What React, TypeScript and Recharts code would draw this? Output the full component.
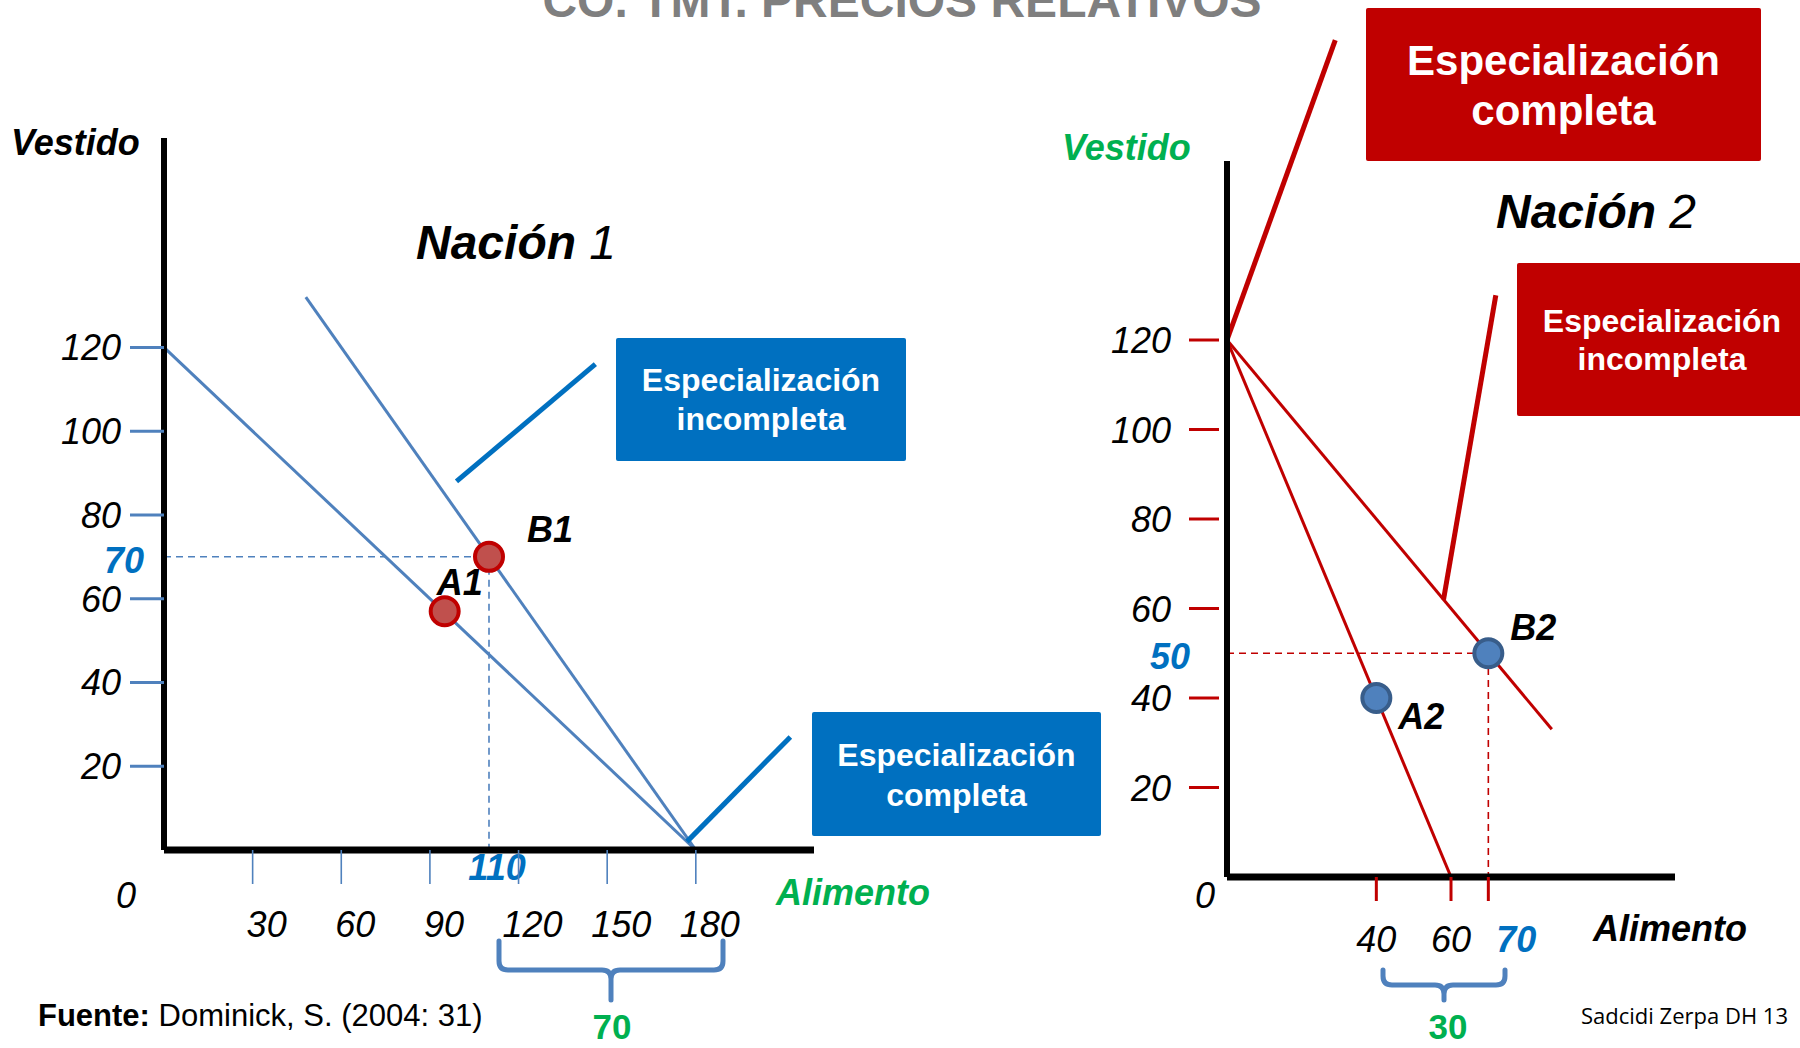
import React from "react";
import { ComposedChart, Line, Scatter, XAxis, YAxis, ReferenceLine } from "recharts";

const FONT = "'Liberation Sans', Arial, Helvetica, sans-serif";
const BLUE_LINE = "#4f81bd";
const BLUE_TEXT = "#0070c0";
const RED = "#c00000";
const GREEN = "#00b050";

// Nación 1 (Alimento en x, Vestido en y)
const n1Frontier = [{ x: 0, y: 120 }, { x: 180, y: 0 }];
const n1Trade = [{ x: 48, y: 132 }, { x: 180, y: 0 }];
const n1Points = [
  { name: "A1", x: 95, y: 57 },
  { name: "B1", x: 110, y: 70 },
];
const n1XTicks = [0, 30, 60, 90, 110, 120, 150, 180];
const n1YTicks = [20, 40, 60, 70, 80, 100, 120];
const n1Pointers = [
  [{ x: 99, y: 88 }, { x: 146, y: 116 }],
  [{ x: 177, y: 2 }, { x: 212, y: 27 }],
];

// Nación 2
const n2Frontier = [{ x: 0, y: 120 }, { x: 60, y: 0 }];
const n2Trade = [{ x: 0, y: 120 }, { x: 87, y: 33 }];
const n2Points = [
  { name: "A2", x: 40, y: 40 },
  { name: "B2", x: 70, y: 50 },
];
const n2XTicks = [0, 40, 60, 70];
const n2YTicks = [20, 40, 50, 60, 80, 100, 120];
const n2Pointers = [
  [{ x: 0, y: 120 }, { x: 29, y: 187 }],
  [{ x: 58, y: 62 }, { x: 72, y: 130 }],
];

const pointLabelOffset: Record<string, { dx: number; dy: number }> = {
  A1: { dx: -8, dy: -16 },
  B1: { dx: 38, dy: -15 },
  A2: { dx: 22, dy: 31 },
  B2: { dx: 22, dy: -13 },
};

type Pt = { x: number; y: number };

// dashed guide from the axes to the consumption point
const guide = (p: Pt) => [{ x: 0, y: p.y }, { x: p.x, y: p.y }, { x: p.x, y: 0 }];

const tickText = { fontFamily: FONT, fontSize: 36, fontStyle: "italic" as const };

type TickCfg = {
  color: string;
  width: number;
  gap: number;
  len: number;
  dx: number;
  dy: number;
  hi: number;
  hiDx: number;
  hiDy: number;
  hiLine: boolean;
  zero?: { dx: number; dy: number };
};

function xTick(cfg: TickCfg) {
  return (p: any) => {
    const { x, y } = p;
    const v = p.payload.value;
    if (v === 0) {
      if (!cfg.zero) return <g />;
      return (
        <text x={x + cfg.zero.dx} y={y + cfg.zero.dy} textAnchor="middle" {...tickText} fill="#000">
          0
        </text>
      );
    }
    const hi = v === cfg.hi;
    return (
      <g>
        {(!hi || cfg.hiLine) && (
          <line x1={x} x2={x} y1={y + cfg.gap} y2={y + cfg.gap + cfg.len} stroke={cfg.color} strokeWidth={cfg.width} />
        )}
        <text
          x={x + (hi ? cfg.hiDx : cfg.dx)}
          y={y + (hi ? cfg.hiDy : cfg.dy)}
          textAnchor="middle"
          {...tickText}
          fontWeight={hi ? "bold" : "normal"}
          fill={hi ? BLUE_TEXT : "#000"}
        >
          {v}
        </text>
      </g>
    );
  };
}

function yTick(cfg: TickCfg) {
  return (p: any) => {
    const { x, y } = p;
    const v = p.payload.value;
    const hi = v === cfg.hi;
    return (
      <g>
        {(!hi || cfg.hiLine) && (
          <line x1={x - cfg.gap - cfg.len} x2={x - cfg.gap} y1={y} y2={y} stroke={cfg.color} strokeWidth={cfg.width} />
        )}
        <text
          x={x + (hi ? cfg.hiDx : cfg.dx)}
          y={y + (hi ? cfg.hiDy : cfg.dy)}
          textAnchor="end"
          {...tickText}
          fontWeight={hi ? "bold" : "normal"}
          fill={hi ? BLUE_TEXT : "#000"}
        >
          {v}
        </text>
      </g>
    );
  };
}

function dotShape(fill: string, stroke: string) {
  return (p: any) => {
    const { cx, cy, payload } = p;
    const off = pointLabelOffset[payload.name];
    return (
      <g>
        <circle cx={cx} cy={cy} r={14} fill={fill} stroke={stroke} strokeWidth={4} />
        <text x={cx + off.dx} y={cy + off.dy} fontFamily={FONT} fontSize={36} fontWeight="bold" fontStyle="italic" fill="#000">
          {payload.name}
        </text>
      </g>
    );
  };
}

type PanelProps = {
  left: number;
  margin: { top: number; right: number; bottom: number; left: number };
  xDomain: [number, number];
  yDomain: [number, number];
  frontier: Pt[];
  trade: Pt[];
  points: (Pt & { name: string })[];
  pointers: Pt[][];
  xTicks: number[];
  yTicks: number[];
  xTickFn: (p: any) => React.ReactElement;
  yTickFn: (p: any) => React.ReactElement;
  lineColor: string;
  pointerColor: string;
  dotFill: string;
  dotStroke: string;
};

function Panel(props: PanelProps) {
  const b = props.points[1];
  return (
    <div style={{ position: "absolute", left: props.left, top: 0 }}>
      <ComposedChart width={900} height={1048} margin={props.margin}>
        <XAxis
          type="number"
          dataKey="x"
          domain={props.xDomain}
          allowDataOverflow
          ticks={props.xTicks}
          interval={0}
          height={60}
          tickLine={false}
          tickSize={0}
          tickMargin={0}
          axisLine={{ stroke: "#000", strokeWidth: 7 }}
          tick={props.xTickFn}
        />
        <YAxis
          type="number"
          dataKey="y"
          domain={props.yDomain}
          allowDataOverflow
          ticks={props.yTicks}
          interval={0}
          width={60}
          tickLine={false}
          tickSize={0}
          tickMargin={0}
          axisLine={{ stroke: "#000", strokeWidth: 6 }}
          tick={props.yTickFn}
        />
        <Line
          data={guide(b)}
          dataKey="y"
          type="linear"
          stroke={props.lineColor}
          strokeWidth={1.6}
          strokeDasharray="7 5"
          dot={false}
          activeDot={false}
          isAnimationActive={false}
        />
        <Line data={props.frontier} dataKey="y" type="linear" stroke={props.lineColor} strokeWidth={3} dot={false} activeDot={false} isAnimationActive={false} />
        <Line data={props.trade} dataKey="y" type="linear" stroke={props.lineColor} strokeWidth={3} dot={false} activeDot={false} isAnimationActive={false} />
        {props.pointers.map((seg, i) => (
          <ReferenceLine key={i} segment={seg} stroke={props.pointerColor} strokeWidth={5} ifOverflow="visible" />
        ))}
        <Scatter data={props.points} dataKey="y" shape={dotShape(props.dotFill, props.dotStroke)} isAnimationActive={false} />
      </ComposedChart>
    </div>
  );
}

function bracePath(x1: number, x2: number, yTop: number, yH: number, yTip: number) {
  const r = 9;
  const xm = (x1 + x2) / 2;
  return (
    `M${x1},${yTop} L${x1},${yH - r} Q${x1},${yH} ${x1 + r},${yH} L${xm - r},${yH} Q${xm},${yH} ${xm},${yH + r} L${xm},${yTip} ` +
    `M${xm},${yH + r} Q${xm},${yH} ${xm + r},${yH} L${x2 - r},${yH} Q${x2},${yH} ${x2},${yH - r} L${x2},${yTop}`
  );
}

function Box({ x, y, w, h, color, lines, size, lineGap, first }: any) {
  return (
    <g>
      <rect x={x} y={y} width={w} height={h} fill={color} rx={2} />
      {lines.map((t: string, i: number) => (
        <text key={i} x={x + w / 2} y={first + i * lineGap} textAnchor="middle" fontSize={size} fontWeight="bold" fill="#fff">
          {t}
        </text>
      ))}
    </g>
  );
}

function Overlay() {
  return (
    <svg width={1800} height={1048} style={{ position: "absolute", left: 0, top: 0, pointerEvents: "none" }} fontFamily={FONT}>
      <text x={902} y={17} textAnchor="middle" fontSize={48} fontWeight="bold" fill="#7f7f7f">
        CO. TMT. PRECIOS RELATIVOS
      </text>

      {/* Nación 1 */}
      <text x={11} y={155} fontSize={36} fontWeight="bold" fontStyle="italic" fill="#000">Vestido</text>
      <text x={416} y={259} fontSize={48} fontStyle="italic" fill="#000">
        <tspan fontWeight="bold">Nación</tspan>
        <tspan> 1</tspan>
      </text>
      <text x={776} y={905} fontSize={36} fontWeight="bold" fontStyle="italic" fill={GREEN}>Alimento</text>
      <Box x={616} y={338} w={290} h={123} color={BLUE_TEXT} lines={["Especialización", "incompleta"]} size={32} lineGap={39} first={391} />
      <Box x={812} y={712} w={289} h={124} color={BLUE_TEXT} lines={["Especialización", "completa"]} size={32} lineGap={40} first={766} />
      <path d={bracePath(499, 723, 941, 970, 1000)} fill="none" stroke={BLUE_LINE} strokeWidth={5} strokeLinecap="round" />
      <text x={612} y={1039} textAnchor="middle" fontSize={35} fontWeight="bold" fill={GREEN}>70</text>
      <text x={38} y={1026} fontSize={31} fill="#000">
        <tspan fontWeight="bold">Fuente:</tspan>
        <tspan> Dominick, S. (2004: 31)</tspan>
      </text>

      {/* Nación 2 */}
      <text x={1062} y={160} fontSize={36} fontWeight="bold" fontStyle="italic" fill={GREEN}>Vestido</text>
      <text x={1496} y={228} fontSize={48} fontStyle="italic" fill="#000">
        <tspan fontWeight="bold">Nación</tspan>
        <tspan> 2</tspan>
      </text>
      <text x={1593} y={941} fontSize={36} fontWeight="bold" fontStyle="italic" fill="#000">Alimento</text>
      <Box x={1366} y={8} w={395} h={153} color={RED} lines={["Especialización", "completa"]} size={42} lineGap={50} first={75} />
      <Box x={1517} y={263} w={290} h={153} color={RED} lines={["Especialización", "incompleta"]} size={32} lineGap={38} first={332} />
      <path d={bracePath(1383, 1505, 970, 985, 1000)} fill="none" stroke={BLUE_LINE} strokeWidth={5} strokeLinecap="round" />
      <text x={1448} y={1039} textAnchor="middle" fontSize={35} fontWeight="bold" fill={GREEN}>30</text>
      <text x={1788} y={1024} textAnchor="end" fontFamily="'Open Sans', 'Noto Sans', sans-serif" fontSize={22} fill="#000">
        Sadcidi Zerpa DH 13
      </text>
    </svg>
  );
}

export default function App() {
  const n1B = n1Points[1];
  const n2B = n2Points[1];
  return (
    <div style={{ position: "absolute", left: 0, top: 0, width: 1800, height: 1048, background: "#fff", overflow: "hidden" }}>
      <Panel
        left={0}
        margin={{ top: 138, right: 86, bottom: 138, left: 104 }}
        xDomain={[0, 220]}
        yDomain={[0, 170]}
        frontier={n1Frontier}
        trade={n1Trade}
        points={n1Points}
        pointers={n1Pointers}
        xTicks={n1XTicks}
        yTicks={n1YTicks}
        xTickFn={xTick({ color: BLUE_LINE, width: 1.6, gap: 0, len: 34, dx: 14, dy: 87, hi: n1B.x, hiDx: 8, hiDy: 30, hiLine: false, zero: { dx: -38, dy: 58 } })}
        yTickFn={yTick({ color: BLUE_LINE, width: 3, gap: 0, len: 34, dx: -43, dy: 13, hi: n1B.y, hiDx: -20, hiDy: 16, hiLine: false })}
        lineColor={BLUE_LINE}
        pointerColor={BLUE_TEXT}
        dotFill="#c0504d"
        dotStroke={RED}
      />
      <Panel
        left={900}
        margin={{ top: 161, right: 125, bottom: 111, left: 267 }}
        xDomain={[0, 120]}
        yDomain={[0, 160]}
        frontier={n2Frontier}
        trade={n2Trade}
        points={n2Points}
        pointers={n2Pointers}
        xTicks={n2XTicks}
        yTicks={n2YTicks}
        xTickFn={xTick({ color: RED, width: 3, gap: 0, len: 24, dx: 0, dy: 75, hi: n2B.x, hiDx: 28, hiDy: 75, hiLine: true, zero: { dx: -22, dy: 31 } })}
        yTickFn={yTick({ color: RED, width: 3, gap: 8, len: 30, dx: -56, dy: 13, hi: n2B.y, hiDx: -37, hiDy: 16, hiLine: false })}
        lineColor={RED}
        pointerColor={RED}
        dotFill={BLUE_LINE}
        dotStroke="#385d8a"
      />
      <Overlay />
    </div>
  );
}
